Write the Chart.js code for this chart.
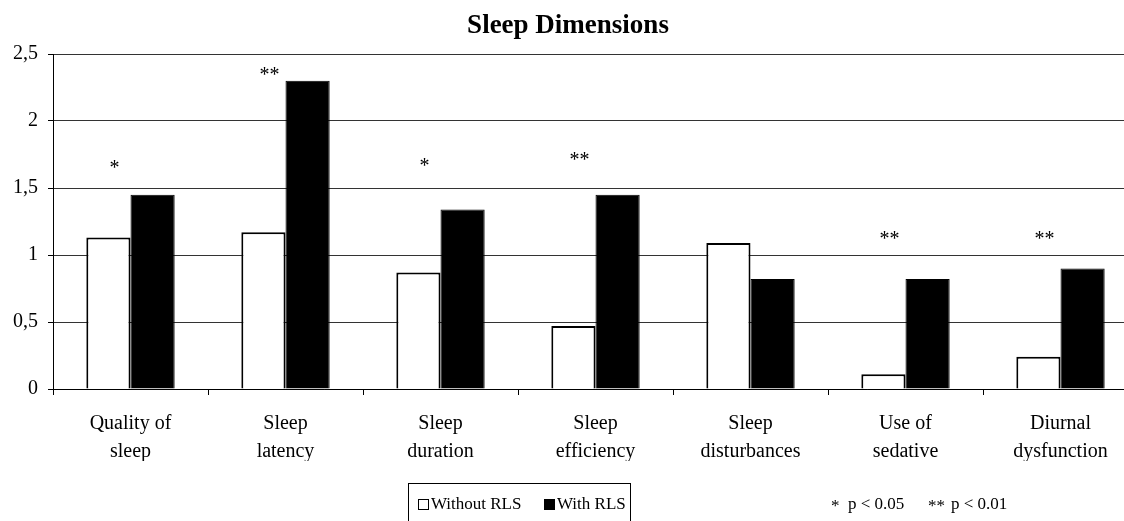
<!DOCTYPE html>
<html lang="en">

<head>
    <meta charset="UTF-8">
    <title>Sleep Dimensions</title>
    <script src="https://cdn.jsdelivr.net/npm/chart.js"></script>
    <style>
        body { margin: 0; background: #fff; overflow: hidden; }
        .chart-container { position: relative; width: 1140px; height: 521px; }
    </style>
</head>

<body>
    <div class="chart-container">
        <canvas id="myChart" width="1140" height="521"></canvas>
    </div>
    <script>
        const categories = [
            ['Quality of', 'sleep'],
            ['Sleep', 'latency'],
            ['Sleep', 'duration'],
            ['Sleep', 'efficiency'],
            ['Sleep', 'disturbances'],
            ['Use of', 'sedative'],
            ['Diurnal', 'dysfunction']
        ];
        const withoutRLS = [1.13, 1.17, 0.87, 0.47, 1.09, 0.11, 0.24];
        const withRLS = [1.45, 2.3, 1.34, 1.45, 0.82, 0.82, 0.9];
        // significance stars and the height (in axis units) they sit at
        const sigMarks = ['*', '**', '*', '**', '', '**', '**'];
        const sigHeights = [1.66, 2.35, 1.67, 1.72, 0, 1.13, 1.13];
        const yTicks = [0, 0.5, 1, 1.5, 2, 2.5];

        const serif = "'Liberation Serif', 'Times New Roman', serif";

        // title, stars and the boxed legend are drawn by hand
        const extras = {
            id: 'extras',
            afterDraw(chart) {
                const ctx = chart.ctx;
                const x = chart.scales.x;
                const y = chart.scales.y;
                ctx.save();
                ctx.fillStyle = '#000';

                ctx.font = 'bold 27px ' + serif;
                ctx.textAlign = 'center';
                ctx.textBaseline = 'alphabetic';
                ctx.fillText('Sleep Dimensions', 568, 33);

                ctx.textBaseline = 'middle';
                ctx.font = '20px ' + serif;
                sigMarks.forEach((m, i) => {
                    if (!m) return;
                    ctx.fillText(m, x.getPixelForValue(i) - 16, y.getPixelForValue(sigHeights[i]) + 2);
                });

                // legend box
                ctx.strokeStyle = '#000';
                ctx.lineWidth = 1;
                ctx.strokeRect(408.5, 483.5, 222, 45);
                ctx.textAlign = 'left';
                ctx.font = '17px ' + serif;
                const ds = chart.data.datasets;
                ctx.fillStyle = '#fff';
                ctx.fillRect(418, 499, 11, 11);
                ctx.strokeRect(418.5, 499.5, 10, 10);
                ctx.fillStyle = '#000';
                ctx.fillText(ds[0].label, 431, 505);
                ctx.fillRect(544, 499, 11, 11);
                ctx.fillText(ds[1].label, 557, 505);

                ctx.fillText('*', 831, 507);
                ctx.fillText('p < 0.05', 848, 505);
                ctx.fillText('**', 928, 507);
                ctx.fillText('p < 0.01', 951, 505);
                ctx.restore();
            }
        };

        const ctx = document.getElementById('myChart').getContext('2d');
        new Chart(ctx, {
            type: 'bar',
            plugins: [extras],
            data: {
                labels: categories,
                datasets: [{
                    label: 'Without RLS',
                    data: withoutRLS,
                    backgroundColor: '#fff',
                    borderColor: '#000',
                    borderWidth: 2,
                    categoryPercentage: 0.57,
                    barPercentage: 1
                }, {
                    label: 'With RLS',
                    data: withRLS,
                    backgroundColor: '#000',
                    borderColor: '#000',
                    borderWidth: 1,
                    categoryPercentage: 0.57,
                    barPercentage: 1
                }]
            },
            options: {
                responsive: false,
                animation: false,
                layout: { padding: { top: 54, left: 0, right: 2, bottom: 60 } },
                plugins: {
                    legend: { display: false },
                    tooltip: { enabled: false }
                },
                scales: {
                    x: {
                        offset: true,
                        grid: {
                            offset: true,
                            drawOnChartArea: false,
                            drawTicks: true,
                            tickLength: 6,
                            color: '#000'
                        },
                        border: { color: '#000', width: 1 },
                        ticks: {
                            color: '#000',
                            padding: 15,
                            maxRotation: 0,
                            autoSkip: false,
                            font: { family: serif, size: 20, lineHeight: 1.4 }
                        },
                        afterFit: scale => { scale.height = 72; }
                    },
                    y: {
                        min: 0,
                        max: 2.5,
                        afterBuildTicks: scale => { scale.ticks = yTicks.map(v => ({ value: v })); },
                        grid: {
                            color: '#333',
                            tickLength: 5,
                            tickColor: '#000'
                        },
                        border: { color: '#000', width: 1 },
                        ticks: {
                            color: '#000',
                            padding: 10,
                            font: { family: serif, size: 20 },
                            callback: v => String(v).replace('.', ',')
                        },
                        afterFit: scale => { scale.width = 53; }
                    }
                }
            }
        });
    </script>
</body>

</html>
